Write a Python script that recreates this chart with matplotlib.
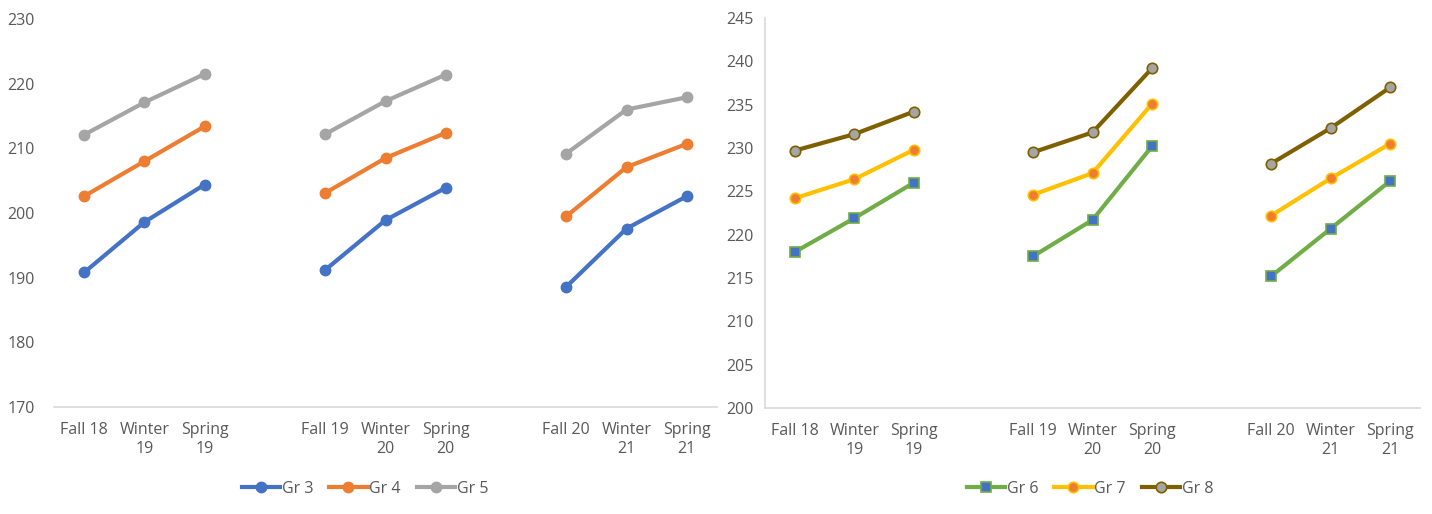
import matplotlib.pyplot as plt
import numpy as np

plt.rcParams['font.family'] = ['Open Sans', 'DejaVu Sans']

terms = ["Fall 18", "Winter\n19", "Spring\n19",
         "Fall 19", "Winter\n20", "Spring\n20",
         "Fall 20", "Winter\n21", "Spring\n21"]

gr3 = [190.8, 198.6, 204.4, 191.2, 198.9, 203.9, 188.6, 197.6, 202.6]
gr4 = [202.6, 208.0, 213.4, 203.1, 208.5, 212.4, 199.5, 207.1, 210.7]
gr5 = [212.1, 217.1, 221.5, 212.2, 217.3, 221.4, 209.2, 216.0, 217.9]

gr6 = [218.0, 221.9, 226.0, 217.5, 221.7, 230.2, 215.2, 220.7, 226.2]
gr7 = [224.2, 226.4, 229.8, 224.6, 227.1, 235.1, 222.2, 226.5, 230.5]
gr8 = [229.7, 231.6, 234.2, 229.5, 231.8, 239.2, 228.2, 232.3, 237.0]

GRAY = "#595959"
FS = 11.5


def spread(vals):
    # put a blank slot between each school year so the lines break
    out = []
    for i, v in enumerate(vals):
        if i > 0 and i % 3 == 0:
            out.append(np.nan)
        out.append(v)
    return np.array(out)


def slot_labels():
    labs = []
    for i, t in enumerate(terms):
        if i > 0 and i % 3 == 0:
            labs.append("")
        labs.append(t)
    return labs


fig = plt.figure(figsize=(14.32, 5.14), dpi=100)
ax1 = fig.add_axes([54 / 1432, 1 - 407 / 514, (717 - 54) / 1432, (407 - 19) / 514])
ax2 = fig.add_axes([765 / 1432, 1 - 408 / 514, (1420 - 765) / 1432, (408 - 18) / 514])

x = np.arange(11)

ax1.plot(x, spread(gr3), color="#4472C4", lw=3, marker="o", ms=7.5, label="Gr 3")
ax1.plot(x, spread(gr4), color="#ED7D31", lw=3, marker="o", ms=7.5, label="Gr 4")
ax1.plot(x, spread(gr5), color="#A5A5A5", lw=3, marker="o", ms=7.5, label="Gr 5")
ax1.set_ylim(170, 230)
ax1.set_yticks(range(170, 231, 10))

ax2.plot(x, spread(gr6), color="#70AD47", lw=3, marker="s", ms=7.5,
         mfc="#4472C4", mec="#70AD47", mew=1.2, label="Gr 6")
ax2.plot(x, spread(gr7), color="#FFC000", lw=3, marker="o", ms=7.5,
         mfc="#ED7D31", mec="#FFC000", mew=1.2, label="Gr 7")
ax2.plot(x, spread(gr8), color="#7F6000", lw=3, marker="o", ms=7.5,
         mfc="#A5A5A5", mec="#7F6000", mew=1.2, label="Gr 8")
ax2.set_ylim(200, 245)
ax2.set_yticks(range(200, 246, 5))

for ax in (ax1, ax2):
    ax.set_xlim(-0.5, 10.5)
    ax.set_xticks(x)
    ax.set_xticklabels(slot_labels(), fontsize=FS, color=GRAY, linespacing=1.25)
    ax.tick_params(axis="both", length=0, labelsize=FS, labelcolor=GRAY)
    ax.tick_params(axis="y", pad=14)
    ax.tick_params(axis="x", pad=11)
    for s in ("top", "right", "left"):
        ax.spines[s].set_visible(False)
    ax.spines["bottom"].set_color("#D9D9D9")
    ax.spines["bottom"].set_linewidth(1.2)

ax2.spines["left"].set_visible(True)
ax2.spines["left"].set_color("#D9D9D9")
ax2.spines["left"].set_linewidth(1.2)
ax2.tick_params(axis="y", pad=8)

ax1.legend(loc="center", bbox_to_anchor=(365 / 1432, 1 - 489 / 514), bbox_transform=fig.transFigure,
           ncol=3, frameon=False, fontsize=FS, labelcolor=GRAY, handlelength=2.4,
           handletextpad=0.1, columnspacing=1.0)
ax2.legend(loc="center", bbox_to_anchor=(1090 / 1432, 1 - 489 / 514), bbox_transform=fig.transFigure,
           ncol=3, frameon=False, fontsize=FS, labelcolor=GRAY, handlelength=2.4,
           handletextpad=0.1, columnspacing=1.0)

fig.savefig("out.png", dpi=100)
